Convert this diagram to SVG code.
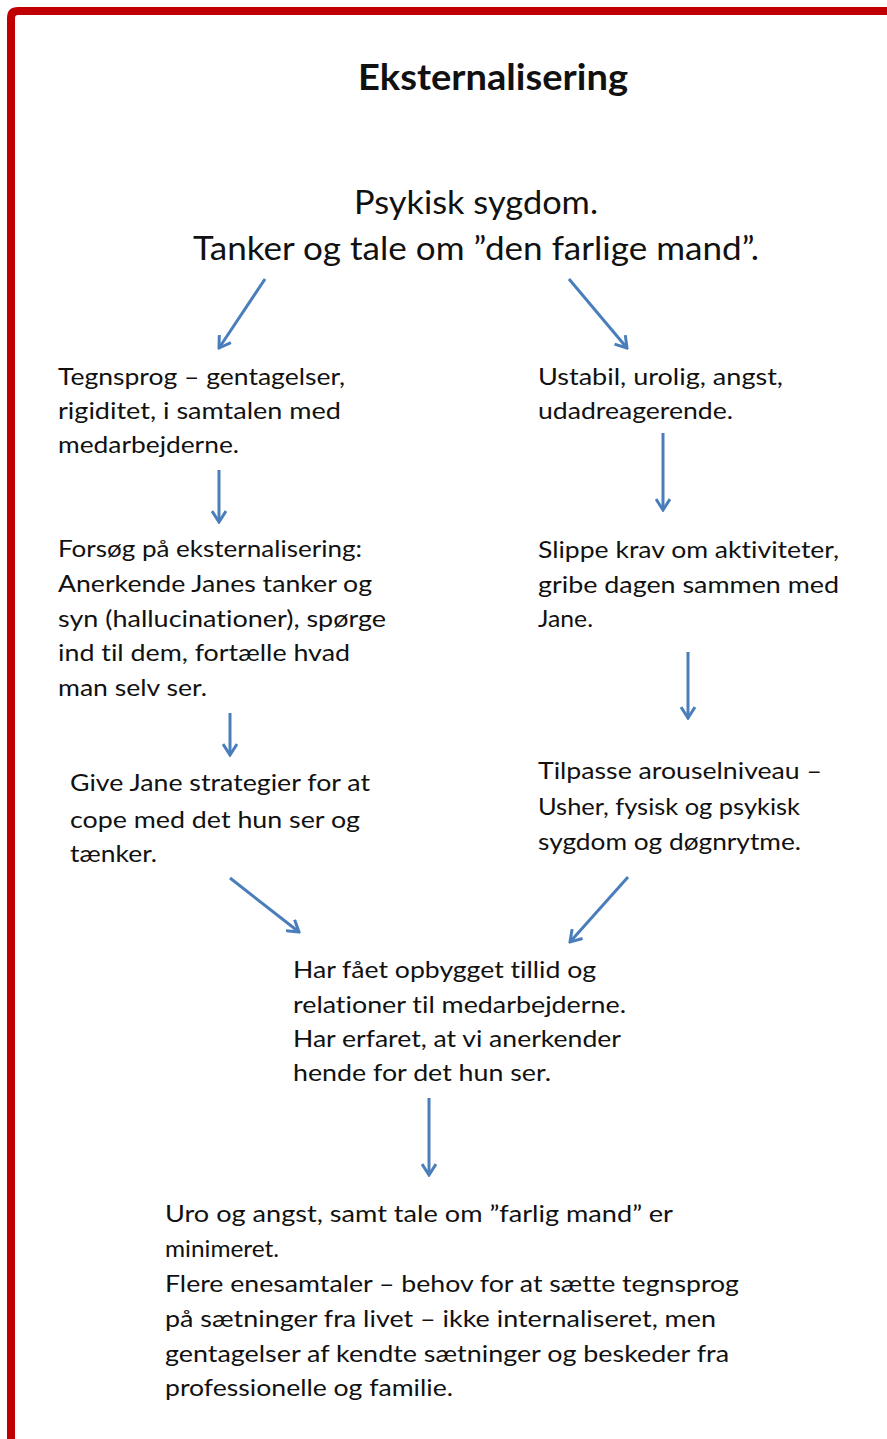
<svg xmlns="http://www.w3.org/2000/svg" width="887" height="1439" viewBox="0 0 887 1439">
<style>
text{font-variant-ligatures:none;font-feature-settings:"liga" 0,"dlig" 0}
.t{font-family:Lato,"Open Sans","Liberation Sans",sans-serif;font-size:24px;fill:#111}
.h{font-family:Lato,"Open Sans","Liberation Sans",sans-serif;font-size:32px;fill:#111;text-anchor:middle}
.ti{font-family:Lato,"Open Sans","Liberation Sans",sans-serif;font-size:36px;font-weight:bold;fill:#111;text-anchor:middle}
.c{stroke:#4a7ebb;stroke-width:3;fill:none;marker-end:url(#ah)}
</style>
<defs>
<marker id="ah" viewBox="0 0 14 16" refX="12" refY="8" markerWidth="14" markerHeight="16" markerUnits="userSpaceOnUse" orient="auto">
<path d="M1,1 L12,8 L1,15" fill="none" stroke="#4a7ebb" stroke-width="3"/>
</marker>
</defs>
<rect width="887" height="1439" fill="#fff"/>
<path d="M11,1439 V18 Q11,11 18,11 H887" fill="none" stroke="#c00000" stroke-width="8"/>
<g id="title"><text class="ti" x="493" y="90" textLength="270" lengthAdjust="spacingAndGlyphs">Eksternalisering</text></g>
<g id="top">
<text class="h" x="476" y="214" textLength="244" lengthAdjust="spacingAndGlyphs">Psykisk sygdom.</text>
<text class="h" x="476" y="260" textLength="566" lengthAdjust="spacingAndGlyphs">Tanker og tale om ”den farlige mand”.</text>
</g>
<g id="tegnsprog">
<text class="t" x="58" y="385" textLength="287" lengthAdjust="spacingAndGlyphs">Tegnsprog – gentagelser,</text>
<text class="t" x="58" y="419" textLength="283" lengthAdjust="spacingAndGlyphs">rigiditet, i samtalen med</text>
<text class="t" x="58" y="453" textLength="181" lengthAdjust="spacingAndGlyphs">medarbejderne.</text>
</g>
<g id="forsoeg">
<text class="t" x="58" y="557" textLength="304" lengthAdjust="spacingAndGlyphs">Forsøg på eksternalisering:</text>
<text class="t" x="58" y="592" textLength="314" lengthAdjust="spacingAndGlyphs">Anerkende Janes tanker og</text>
<text class="t" x="58" y="627" textLength="328" lengthAdjust="spacingAndGlyphs">syn (hallucinationer), spørge</text>
<text class="t" x="58" y="661" textLength="292" lengthAdjust="spacingAndGlyphs">ind til dem, fortælle hvad</text>
<text class="t" x="58" y="696" textLength="149" lengthAdjust="spacingAndGlyphs">man selv ser.</text>
</g>
<g id="give">
<text class="t" x="70" y="791" textLength="300" lengthAdjust="spacingAndGlyphs">Give Jane strategier for at</text>
<text class="t" x="70" y="828" textLength="290" lengthAdjust="spacingAndGlyphs">cope med det hun ser og</text>
<text class="t" x="70" y="862" textLength="87" lengthAdjust="spacingAndGlyphs">tænker.</text>
</g>
<g id="ustabil">
<text class="t" x="538" y="385" textLength="245" lengthAdjust="spacingAndGlyphs">Ustabil, urolig, angst,</text>
<text class="t" x="538" y="419" textLength="195" lengthAdjust="spacingAndGlyphs">udadreagerende.</text>
</g>
<g id="slippe">
<text class="t" x="538" y="558" textLength="301" lengthAdjust="spacingAndGlyphs">Slippe krav om aktiviteter,</text>
<text class="t" x="538" y="593" textLength="301" lengthAdjust="spacingAndGlyphs">gribe dagen sammen med</text>
<text class="t" x="538" y="627" textLength="55" lengthAdjust="spacingAndGlyphs">Jane.</text>
</g>
<g id="tilpasse">
<text class="t" x="538" y="779" textLength="284" lengthAdjust="spacingAndGlyphs">Tilpasse arouselniveau –</text>
<text class="t" x="538" y="815" textLength="262" lengthAdjust="spacingAndGlyphs">Usher, fysisk og psykisk</text>
<text class="t" x="538" y="850" textLength="263" lengthAdjust="spacingAndGlyphs">sygdom og døgnrytme.</text>
</g>
<g id="tillid">
<text class="t" x="293" y="978" textLength="303" lengthAdjust="spacingAndGlyphs">Har fået opbygget tillid og</text>
<text class="t" x="293" y="1013" textLength="333" lengthAdjust="spacingAndGlyphs">relationer til medarbejderne.</text>
<text class="t" x="293" y="1047" textLength="328" lengthAdjust="spacingAndGlyphs">Har erfaret, at vi anerkender</text>
<text class="t" x="293" y="1081" textLength="258" lengthAdjust="spacingAndGlyphs">hende for det hun ser.</text>
</g>
<g id="uro">
<text class="t" x="165" y="1222" textLength="508" lengthAdjust="spacingAndGlyphs">Uro og angst, samt tale om ”farlig mand” er</text>
<text class="t" x="165" y="1257" textLength="114" lengthAdjust="spacingAndGlyphs">minimeret.</text>
<text class="t" x="165" y="1292" textLength="574" lengthAdjust="spacingAndGlyphs">Flere enesamtaler – behov for at sætte tegnsprog</text>
<text class="t" x="165" y="1327" textLength="551" lengthAdjust="spacingAndGlyphs">på sætninger fra livet – ikke internaliseret, men</text>
<text class="t" x="165" y="1362" textLength="564" lengthAdjust="spacingAndGlyphs">gentagelser af kendte sætninger og beskeder fra</text>
<text class="t" x="165" y="1396" textLength="288" lengthAdjust="spacingAndGlyphs">professionelle og familie.</text>
</g>
<g id="connectors">
<line class="c" x1="265" y1="279" x2="219" y2="348"/>
<line class="c" x1="569" y1="279" x2="627" y2="348"/>
<line class="c" x1="219" y1="470" x2="219" y2="522"/>
<line class="c" x1="663" y1="433" x2="663" y2="510"/>
<line class="c" x1="230" y1="713" x2="230" y2="755"/>
<line class="c" x1="688" y1="652" x2="688" y2="718"/>
<line class="c" x1="230" y1="878" x2="299" y2="932"/>
<line class="c" x1="628" y1="877" x2="570" y2="942"/>
<line class="c" x1="429" y1="1098" x2="429" y2="1175"/>
</g>
</svg>
